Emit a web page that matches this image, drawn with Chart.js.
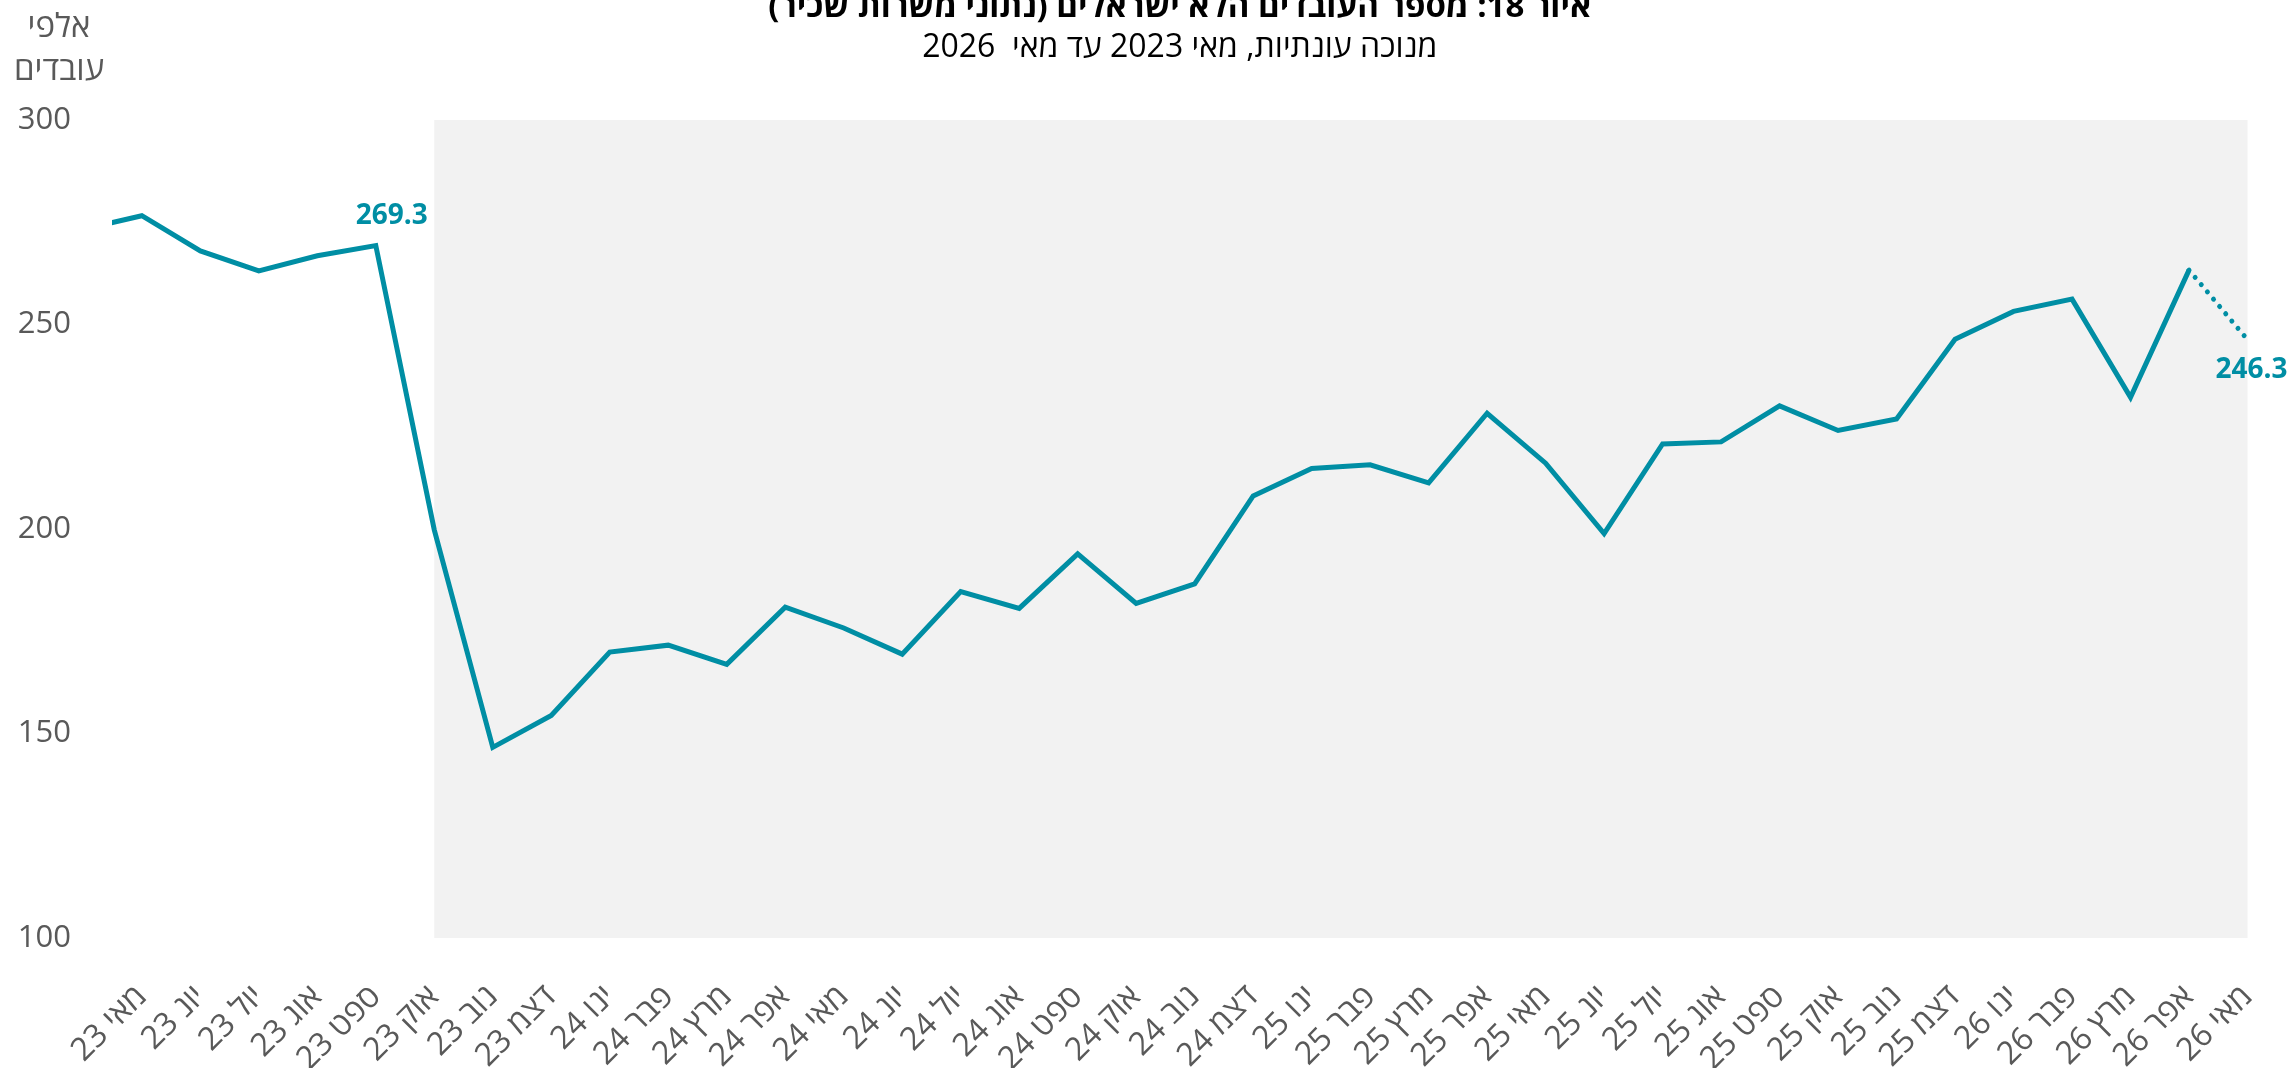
<!DOCTYPE html>
<html lang="he">
<head>
<meta charset="utf-8">
<title>מספר העובדים הלא ישראלים</title>
<script src="https://cdn.jsdelivr.net/npm/chart.js@4.4.1/dist/chart.umd.min.js"></script>
<style>
  html, body { margin: 0; padding: 0; background: #ffffff; }
  #wrap { width: 2292px; height: 1068px; position: relative; }
</style>
</head>
<body>
<div id="wrap"><canvas id="chart" width="2292" height="1068"></canvas></div>
<script>
const FONT = "'Open Sans', 'Liberation Sans', 'DejaVu Sans', sans-serif";
const TITLE = 'איור 18: מספר העובדים הלא ישראלים (נתוני משרות שכיר)';
const SUBTITLE = 'מנוכה עונתיות, מאי 2023 עד מאי  2026';
const UNIT_LINES = ['אלפי', 'עובדים'];

// Monthly, seasonally adjusted (thousands of workers).
// April 2023 lies just before the plotted window; its segment enters from the left edge.
const months = [
  'אפר 23', 'מאי 23', 'יונ 23', 'יול 23', 'אוג 23', 'ספט 23', 'אוק 23', 'נוב 23', 'דצמ 23',
  'ינו 24', 'פבר 24', 'מרץ 24', 'אפר 24', 'מאי 24', 'יונ 24', 'יול 24', 'אוג 24', 'ספט 24',
  'אוק 24', 'נוב 24', 'דצמ 24', 'ינו 25', 'פבר 25', 'מרץ 25', 'אפר 25', 'מאי 25', 'יונ 25',
  'יול 25', 'אוג 25', 'ספט 25', 'אוק 25', 'נוב 25', 'דצמ 25', 'ינו 26', 'פבר 26', 'מרץ 26',
  'אפר 26', 'מאי 26'
];
const workers = [
  273.3, 276.6, 268.0, 263.1, 266.8, 269.3, 199.8, 146.6, 154.4,
  169.9, 171.6, 166.9, 180.9, 175.8, 169.4, 184.7, 180.6, 193.9,
  181.8, 186.6, 208.1, 214.8, 215.7, 211.3, 228.3, 216.1, 198.9,
  220.8, 221.3, 230.1, 224.1, 226.9, 246.4, 253.2, 256.2, 232.2,
  263.3, 246.3
];
const yTicks = [100, 150, 200, 250, 300];
const firstShownMonth = 'מאי 23';
const shadeFromMonth = 'אוק 23';     // grey period from October 2023 onward
const estimateFromMonth = 'אפר 26';  // last segment is a preliminary estimate (dotted)
const labelledMonths = ['ספט 23', 'מאי 26'];

const TEAL = '#008EA4';
const GREY_TEXT = '#595959';

const firstIdx = months.indexOf(firstShownMonth);
const shadeIdx = months.indexOf(shadeFromMonth);
const estimateIdx = months.indexOf(estimateFromMonth);

// Grey background band behind the line
const shadePlugin = {
  id: 'shade',
  beforeDatasetsDraw(chart) {
    const { ctx, chartArea, scales } = chart;
    const x0 = scales.x.getPixelForValue(shadeIdx);
    ctx.save();
    ctx.fillStyle = '#F2F2F2';
    ctx.fillRect(x0, chartArea.top, chartArea.right - x0, chartArea.bottom - chartArea.top);
    ctx.restore();
  }
};

// Value labels for selected months
const valueLabelPlugin = {
  id: 'valueLabels',
  afterDatasetsDraw(chart) {
    const { ctx } = chart;
    const meta = chart.getDatasetMeta(0);
    const offsets = { 'ספט 23': [16, -30], 'מאי 26': [4, 30] };
    ctx.save();
    ctx.font = 'bold 28px ' + FONT;
    ctx.fillStyle = TEAL;
    ctx.textAlign = 'center';
    ctx.textBaseline = 'middle';
    labelledMonths.forEach(m => {
      const i = months.indexOf(m);
      const pt = meta.data[i];
      const [dx, dy] = offsets[m];
      ctx.fillText(workers[i].toFixed(1), pt.x + dx, pt.y + dy);
    });
    ctx.restore();
  }
};

// Title, subtitle and the unit caption above the value axis
const headingPlugin = {
  id: 'headings',
  afterDraw(chart) {
    const { ctx, chartArea } = chart;
    const cx = (chartArea.left + chartArea.right) / 2;
    ctx.save();
    ctx.direction = 'rtl';
    ctx.textAlign = 'center';
    ctx.textBaseline = 'alphabetic';
    ctx.fillStyle = '#000000';
    ctx.font = 'bold 33px ' + FONT;
    ctx.fillText(TITLE, cx, 17);
    ctx.font = '32px ' + FONT;
    ctx.fillText(SUBTITLE, cx, 57);
    ctx.fillStyle = GREY_TEXT;
    ctx.font = '33px ' + FONT;
    ctx.fillText(UNIT_LINES[0], 59, 37);
    ctx.fillText(UNIT_LINES[1], 59, 80);
    ctx.restore();
  }
};

const points = workers.map((v, i) => ({ x: i, y: v }));

new Chart(document.getElementById('chart'), {
  type: 'line',
  data: {
    datasets: [{
      data: points,
      borderColor: TEAL,
      borderWidth: 5,
      borderJoinStyle: 'miter',
      pointRadius: 0,
      pointHoverRadius: 0,
      tension: 0,
      fill: false,
      segment: {
        borderDash: c => (c.p0DataIndex >= estimateIdx ? [0.01, 9.5] : undefined),
        borderCapStyle: c => (c.p0DataIndex >= estimateIdx ? 'round' : 'butt')
      }
    }]
  },
  options: {
    responsive: false,
    animation: false,
    events: [],
    layout: { autoPadding: false, padding: { top: 120, right: 44.5, bottom: 0, left: 0 } },
    plugins: { legend: { display: false }, tooltip: { enabled: false }, title: { display: false } },
    scales: {
      x: {
        type: 'linear',
        min: firstIdx - 0.51,
        max: months.length - 1,
        grid: { display: false, drawTicks: false },
        border: { display: false },
        afterBuildTicks: s => { s.ticks = months.map((m, i) => ({ value: i })).filter(t => t.value >= firstIdx); },
        afterFit: s => { s.height = 130; s.paddingLeft = 0; s.paddingRight = 0; },
        ticks: {
          autoSkip: false,
          minRotation: 45,
          maxRotation: 45,
          padding: 40,
          color: GREY_TEXT,
          font: { family: FONT, size: 32 },
          callback: v => months[v]
        }
      },
      y: {
        min: yTicks[0],
        max: yTicks[yTicks.length - 1],
        grid: { display: false, drawTicks: false },
        border: { display: false },
        afterBuildTicks: s => { s.ticks = yTicks.map(v => ({ value: v })); },
        afterFit: s => { s.width = 112; s.paddingTop = 0; s.paddingBottom = 0; },
        ticks: { padding: 41, color: GREY_TEXT, font: { family: FONT, size: 31 } }
      }
    }
  },
  plugins: [shadePlugin, valueLabelPlugin, headingPlugin]
});
</script>
</body>
</html>
